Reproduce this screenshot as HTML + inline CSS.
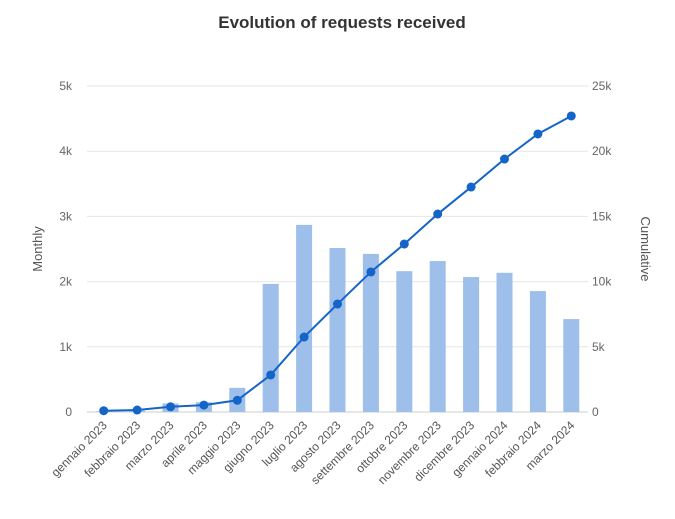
<!DOCTYPE html>
<html><head><meta charset="utf-8"><style>
body{margin:0;background:#fff;font-family:"Liberation Sans",sans-serif;}
text{font-family:"Liberation Sans",sans-serif;}
</style></head><body>
<svg id="chart" width="675" height="514">
<text x="342" y="28" text-anchor="middle" font-size="17" font-weight="bold" fill="#333">Evolution of requests received</text>
<g id="grid"></g><g id="bars"></g><g id="line"></g><g id="axes"></g>
<text transform="translate(42,249) rotate(-90)" text-anchor="middle" font-size="13" fill="#555">Monthly</text>
<text transform="translate(641,249) rotate(90)" text-anchor="middle" font-size="13" fill="#555">Cumulative</text>
</svg>
<script>
const categories=["gennaio 2023","febbraio 2023","marzo 2023","aprile 2023","maggio 2023","giugno 2023","luglio 2023","agosto 2023","settembre 2023","ottobre 2023","novembre 2023","dicembre 2023","gennaio 2024","febbraio 2024","marzo 2024"];
const monthly=[10,20,130,150,370,1965,2870,2515,2425,2160,2315,2070,2135,1855,1425];
const cumulative=[100,150,400,530,900,2840,5750,8280,10740,12880,15180,17250,19400,21320,22700];
const leftTicks=[0,1000,2000,3000,4000,5000];
const leftLabels=["0","1k","2k","3k","4k","5k"];
const rightTicks=[0,5000,10000,15000,20000,25000];
const rightLabels=["0","5k","10k","15k","20k","25k"];
const NS="http://www.w3.org/2000/svg";
const x0=87,x1=588,yb=412,yt=86;
const step=(x1-x0)/categories.length;
const xPos=i=>x0+step*(i+0.5);
const yL=v=>yb-(v/5000)*(yb-yt);
const yR=v=>yb-(v/25000)*(yb-yt);
function mk(tag,attrs,parent){const e=document.createElementNS(NS,tag);for(const k in attrs)e.setAttribute(k,attrs[k]);parent.appendChild(e);return e;}
const grid=document.getElementById('grid'),bars=document.getElementById('bars'),line=document.getElementById('line'),axes=document.getElementById('axes');
leftTicks.forEach((t,i)=>{
 const g=mk('line',{x1:x0,x2:x1,y1:yL(t),y2:yL(t),stroke:i==0?'#ccc':'#e6e6e6','stroke-width':1},grid);
 
 
 const l=mk('text',{x:x0-15,y:yL(t)+4,'text-anchor':'end','font-size':12,fill:'#666'},axes);
 l.textContent=leftLabels[i];
 
 
});
rightTicks.forEach((t,i)=>{
 const l=mk('text',{x:x1+4,y:yR(t)+4,'text-anchor':'start','font-size':12,fill:'#666'},axes);
 l.textContent=rightLabels[i];
 
 
});
categories.forEach((c,i)=>{
 const b=mk('rect',{x:xPos(i)-8,y:yL(monthly[i]),width:16,height:yb-yL(monthly[i]),fill:'#9dbfea'},bars);
 
 
 const l=mk('text',{transform:`translate(${xPos(i)+4},${yb+14}) rotate(-45)`,'text-anchor':'end','font-size':12,fill:'#555'},axes);
 l.textContent=c;
 
 
});
const pl=mk('polyline',{points:cumulative.map((v,i)=>xPos(i)+','+yR(v)).join(' '),fill:'none',stroke:'#1565c8','stroke-width':2},line);


cumulative.forEach((v,i)=>{
 const p=mk('circle',{cx:xPos(i),cy:yR(v),r:4.5,fill:'#1565c8'},line);
 
 
});
</script>
</body></html>
